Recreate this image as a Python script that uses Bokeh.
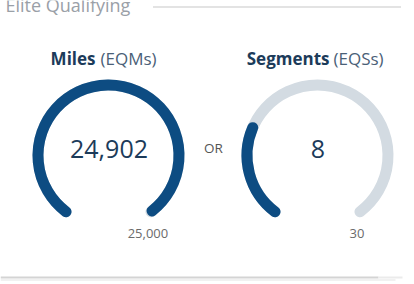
import math
from bokeh.plotting import figure
from bokeh.models import Range1d
from bokeh.core.properties import value
from bokeh.embed import file_html
from bokeh.resources import INLINE

# ---- data ----
categories = ["Miles", "Segments"]
subtitles = ["(EQMs)", "(EQSs)"]
values = [24902, 8]
targets = [25000, 30]
value_labels = ["24,902", "8"]
target_labels = ["25,000", "30"]
header = "Elite Qualifying"
separator = "OR"

W, H = 414, 284
FONT = value("Open Sans")
DARK = "#0d4c82"
TRACK = "#d3dbe2"
NAVY = "#1c3b5a"

def Y(y):
    return H - y

p = figure(width=W, height=H, output_backend="svg", toolbar_location=None,
           x_range=Range1d(0, W), y_range=Range1d(0, H),
           x_axis_location=None, y_axis_location=None, min_border=0)
p.grid.visible = False
p.outline_line_color = None
p.background_fill_color = "white"
p.border_fill_color = "white"

# header
p.text(x=[5], y=[Y(4.5)], text=[header], text_font=FONT, text_font_size="18px",
       text_color="#9aa0a7", text_baseline="alphabetic", text_align="left")
p.line(x=[153, 401], y=[Y(6.5), Y(6.5)], line_color="#8f8f8f", line_width=1, line_dash="1 1")

# bottom card shadow
p.line(x=[0, 378], y=[Y(277), Y(277)], line_color="#d4d4d4", line_width=2)
p.line(x=[378, 402], y=[Y(277), Y(277)], line_color="#ebebeb", line_width=2)
p.line(x=[0, 395], y=[Y(279.5), Y(279.5)], line_color="#f1f1f1", line_width=2)

centers_x = [108, 317]
cy = 155
R = 70.5
LW = 11
GAP = 37  # degrees each side of bottom
A0 = 270 - GAP          # bottom-left start (deg)
A1 = -90 + GAP          # bottom-right end (deg)
SPAN = A0 - A1

title_split_x = [[95, 100], [329, 333]]

for i, cat in enumerate(categories):
    cx = centers_x[i]
    frac = values[i] / targets[i]
    # track
    p.arc(x=[cx], y=[Y(cy)], radius=R, start_angle=math.radians(A1), end_angle=math.radians(A0),
          direction="anticlock", line_color=TRACK, line_width=LW, line_cap="round")
    # progress
    p.arc(x=[cx], y=[Y(cy)], radius=R, start_angle=math.radians(A0 - frac * SPAN),
          end_angle=math.radians(A0), direction="anticlock", line_color=DARK,
          line_width=LW, line_cap="round")
    # value
    p.text(x=[cx + 0.5], y=[Y(148)], text=[value_labels[i]], text_font=FONT,
           text_font_size="25px", text_color=NAVY, text_align="center",
           text_baseline="alphabetic")
    # target label
    ex = cx + R * math.cos(math.radians(A1))
    p.text(x=[ex - 3], y=[Y(233)], text=[target_labels[i]], text_font=FONT,
           text_font_size="13px", text_color="#6b6b6b", text_align="center",
           text_baseline="alphabetic")
    # titles
    p.text(x=[title_split_x[i][0]], y=[Y(57.5)], text=[cat], text_font=FONT,
           text_font_size="17px", text_font_style="bold", text_color=NAVY,
           text_align="right", text_baseline="alphabetic")
    p.text(x=[title_split_x[i][1]], y=[Y(57.5)], text=[subtitles[i]], text_font=FONT,
           text_font_size="17px", text_color="#4a6077", text_align="left",
           text_baseline="alphabetic")

p.text(x=[213], y=[Y(147)], text=[separator], text_font=FONT, text_font_size="13.5px",
       text_color="#555555", text_align="center", text_baseline="alphabetic")

open("out.html", "w").write(file_html(p, INLINE))
